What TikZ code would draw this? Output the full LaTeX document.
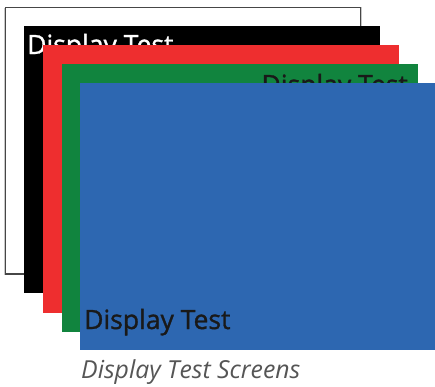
\documentclass[tikz,border=0pt]{standalone}
\usepackage{fontspec}
\setmainfont{Open Sans}
\newfontfamily\scrfont[FakeBold=1.2]{Open Sans}
\definecolor{scrred}{RGB}{238,46,47}
\definecolor{scrgreen}{RGB}{17,132,62}
\definecolor{scrblue}{RGB}{45,103,177}
\definecolor{framegray}{RGB}{70,70,70}
\definecolor{shadowgray}{RGB}{200,200,200}
\definecolor{captiongray}{RGB}{85,85,85}
\begin{document}
\begin{tikzpicture}[x=1pt,y=-1pt,
  scrtext/.style={inner sep=0pt,font=\scrfont\fontsize{26.5}{30}\selectfont},
  caption/.style={inner sep=0pt,font=\fontsize{24.8}{28}\selectfont\itshape,text=captiongray}]
\useasboundingbox (0,0) rectangle (435,386);
% white screen
\draw[shadowgray,line width=1pt] (4.3,8) -- (4.3,274.5);
\draw[shadowgray,line width=1pt] (361.8,7) -- (361.8,274);
\fill[white] (5,7) rectangle (361,274);
\draw[framegray,line width=1.1pt] (5.3,274) -- (5.3,7.3) -- (360.7,7.3) -- (360.7,274) -- cycle;
% black screen
\fill[black] (24,26) rectangle (380,293);
\node[scrtext,text=white,anchor=base west] (t1) at (27,54) {Display Test};
% red screen
\fill[scrred] (43,45) rectangle (399,312.5);
% green screen
\fill[scrgreen] (62,64) rectangle (418,331.5);
\node[scrtext,text=black!90,anchor=base east] (t2) at (408,94) {Display Test};
% blue screen
\fill[scrblue] (80,83) rectangle (436,350);
\node[scrtext,text=black!90,anchor=base west] (t3) at (84,329) {Display Test};
% caption
\node[caption,anchor=base west] (cap) at (81,378) {Display Test Screens};
\end{tikzpicture}
\end{document}
